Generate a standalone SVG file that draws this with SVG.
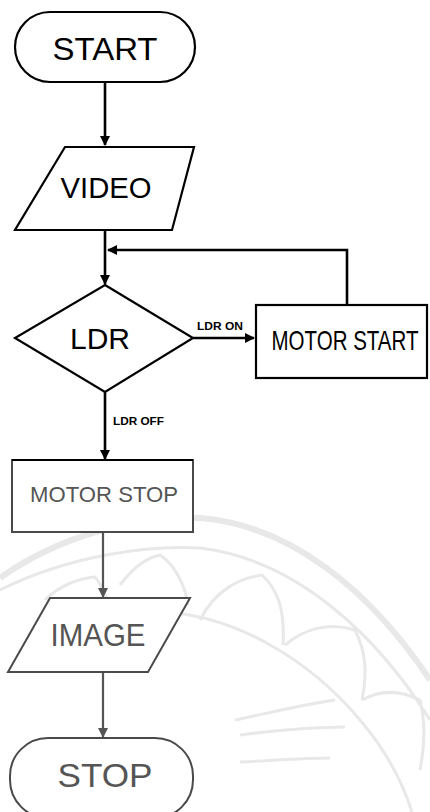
<svg xmlns="http://www.w3.org/2000/svg" width="430" height="812" viewBox="0 0 430 812">
<style>
  .blk { fill: #fff; stroke: #000; stroke-width: 2.2; }
  .gry { fill: #fff; stroke: #4a4a4a; stroke-width: 2; }
  .lnb { fill: none; stroke: #000; stroke-width: 2.6; }
  .lng { fill: none; stroke: #555; stroke-width: 2.2; }
  .t { font-family: "Liberation Sans", Arial, sans-serif; text-anchor: middle; }
  .tb { fill: #000; }
  .tg { fill: #555; }
  .lbl { font-family: "Liberation Sans", Arial, sans-serif; font-size: 11px; font-weight: bold; fill: #000; }
  .wm { fill: none; stroke: #e8e8e8; stroke-width: 3; }
</style>
<defs>
  <marker id="ab" markerWidth="10" markerHeight="10" refX="9" refY="5" orient="auto" markerUnits="userSpaceOnUse">
    <path d="M0,0 L10,5 L0,10 Z" fill="#000"/>
  </marker>
  <marker id="ag" markerWidth="10" markerHeight="10" refX="9" refY="5" orient="auto" markerUnits="userSpaceOnUse">
    <path d="M0,0 L10,5 L0,10 Z" fill="#555"/>
  </marker>
</defs>
<rect width="430" height="812" fill="#fff"/>
<g id="watermark">
  <path class="wm" style="stroke-width:6" d="M0,578 C60,535 140,515 200,518 C290,525 370,590 430,680"/>
  <path class="wm" d="M0,590 C70,555 150,545 200,548 C300,560 380,640 430,720"/>
  <path class="wm" d="M150,612 C230,610 310,660 360,720 C390,755 405,790 412,812"/>
  <path class="wm" d="M200,620 C215,590 240,578 262,575 C278,590 285,610 283,645"/>
  <path class="wm" d="M285,645 C305,628 330,622 355,630 C365,650 368,670 362,700"/>
  <path class="wm" d="M362,700 C380,690 400,690 420,700 C425,720 425,745 420,770"/>
  <path class="wm" d="M120,585 C135,565 150,557 160,555 C175,565 185,585 188,605"/>
  <path class="wm" d="M45,600 C60,585 80,578 95,577 C105,590 110,605 110,615"/>
  <path class="wm" d="M235,720 C260,715 300,705 335,700"/>
  <path class="wm" d="M240,735 C280,730 320,727 345,727"/>
  <path class="wm" d="M240,762 C280,760 310,758 330,758"/>
</g>
<g id="connectors">
  <path class="lnb" d="M105,83 V145" marker-end="url(#ab)"/>
  <path class="lnb" d="M105,230 V284" marker-end="url(#ab)"/>
  <path class="lnb" d="M347,305 V250 H108" marker-end="url(#ab)"/>
  <path class="lnb" d="M193,338 H254" marker-end="url(#ab)"/>
  <path class="lnb" d="M105,392 V459" marker-end="url(#ab)"/>
  <path class="lng" d="M103,532 V597" marker-end="url(#ag)"/>
  <path class="lng" d="M103,672 V737" marker-end="url(#ag)"/>
  <text class="lbl" x="197" y="330" textLength="46" lengthAdjust="spacingAndGlyphs">LDR ON</text>
  <text class="lbl" x="113" y="425" textLength="51" lengthAdjust="spacingAndGlyphs">LDR OFF</text>
</g>
<g id="start">
  <rect class="blk" x="15" y="12" width="180" height="70" rx="35" ry="35"/>
  <text class="t tb" x="105" y="60" font-size="31" textLength="105" lengthAdjust="spacingAndGlyphs">START</text>
</g>
<g id="video">
  <polygon class="blk" points="65,147 194,147 172,230 15,230"/>
  <text class="t tb" x="106" y="198" font-size="30" textLength="91" lengthAdjust="spacingAndGlyphs">VIDEO</text>
</g>
<g id="ldr">
  <polygon class="blk" points="105,285 193,338 105,392 15,338"/>
  <text class="t tb" x="100" y="349" font-size="30" textLength="60" lengthAdjust="spacingAndGlyphs">LDR</text>
</g>
<g id="motor-start">
  <rect class="blk" x="256" y="305" width="171" height="73"/>
  <text class="t tb" transform="translate(345,350) scale(0.76,1)" x="0" y="0" font-size="27">MOTOR START</text>
</g>
<g id="motor-stop">
  <rect class="gry" x="12" y="460" width="181" height="72"/>
  <line x1="12" y1="460" x2="193" y2="460" stroke="#000" stroke-width="2.2"/>
  <text class="t tg" x="104" y="502" font-size="22" textLength="148" lengthAdjust="spacingAndGlyphs">MOTOR STOP</text>
</g>
<g id="image">
  <polygon class="gry" points="50,598 190,598 148,672 8,672"/>
  <text class="t tg" x="98" y="646" font-size="31" textLength="95" lengthAdjust="spacingAndGlyphs">IMAGE</text>
</g>
<g id="stop">
  <rect class="gry" x="10" y="738" width="183" height="80" rx="38" ry="38"/>
  <text class="t tg" x="105" y="787" font-size="33" textLength="95" lengthAdjust="spacingAndGlyphs">STOP</text>
</g>
</svg>
